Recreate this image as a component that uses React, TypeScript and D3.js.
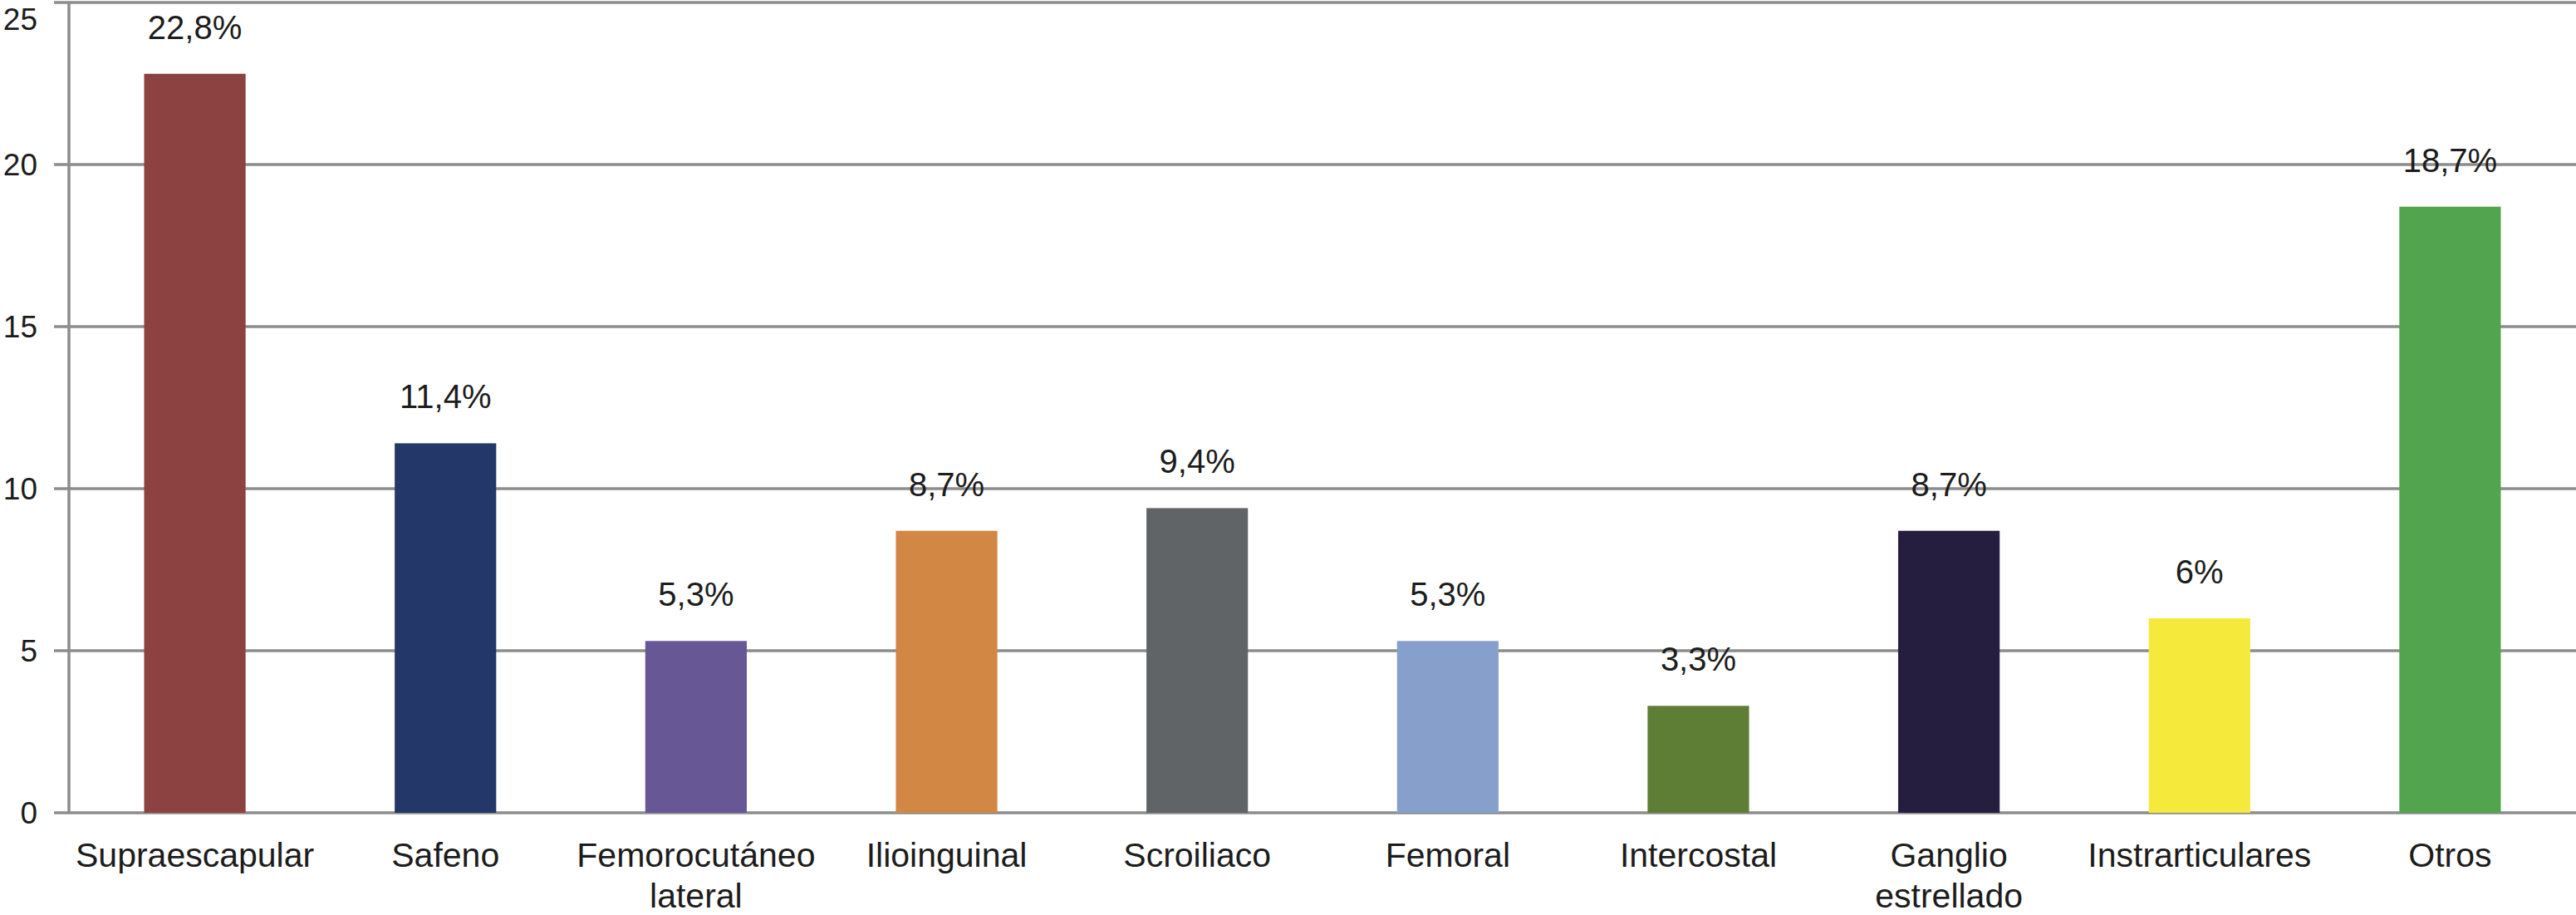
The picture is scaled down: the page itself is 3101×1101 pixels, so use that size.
import { useEffect, useRef } from 'react'
import * as d3 from 'd3'

const categories = [
  'Supraescapular',
  'Safeno',
  'Femorocutáneo\nlateral',
  'Ilioinguinal',
  'Scroiliaco',
  'Femoral',
  'Intercostal',
  'Ganglio\nestrellado',
  'Instrarticulares',
  'Otros',
]
const values = [22.8, 11.4, 5.3, 8.7, 9.4, 5.3, 3.3, 8.7, 6, 18.7]
const valueLabels = ['22,8%', '11,4%', '5,3%', '8,7%', '9,4%', '5,3%', '3,3%', '8,7%', '6%', '18,7%']
const colors = [
  '#8b4240',
  '#233868',
  '#675795',
  '#d38744',
  '#616466',
  '#87a0cb',
  '#5f7e35',
  '#251e3e',
  '#f5ea3c',
  '#52a44e',
]
const yTicks = [0, 5, 10, 15, 20, 25]

const W = 3101
const H = 1101

export default function App() {
  const svgRef = useRef<SVGSVGElement | null>(null)

  useEffect(() => {
    const margin = { top: 3, left: 83, right: 0, bottom: 123 }
    const font = '"Liberation Sans", Arial, Helvetica, sans-serif'
    const grid = '#8d8d8d'
    const ink = '#1c1c1c'

    const svg = d3.select(svgRef.current)
    svg.selectAll('*').remove()
    svg.attr('viewBox', `0 0 ${W} ${H}`)

    const x = d3
      .scaleBand<string>()
      .domain(categories)
      .range([margin.left, W - margin.right])
      .paddingInner(0.595)
      .paddingOuter(0.3)

    const y = d3
      .scaleLinear()
      .domain([0, 25])
      .range([H - margin.bottom, margin.top])

    // grid lines
    svg
      .append('g')
      .selectAll('line')
      .data(yTicks)
      .join('line')
      .attr('x1', margin.left - 18)
      .attr('x2', W)
      .attr('y1', (d) => y(d))
      .attr('y2', (d) => y(d))
      .attr('stroke', grid)
      .attr('stroke-width', 3.5)

    // vertical axis
    svg
      .append('line')
      .attr('x1', margin.left)
      .attr('x2', margin.left)
      .attr('y1', y(25))
      .attr('y2', y(0))
      .attr('stroke', grid)
      .attr('stroke-width', 3.5)

    // tick labels
    svg
      .append('g')
      .selectAll('text')
      .data(yTicks)
      .join('text')
      .attr('x', 45)
      .attr('y', (d) => Math.max(y(d), 23))
      .attr('dy', '0.36em')
      .attr('text-anchor', 'end')
      .attr('font-family', font)
      .attr('font-size', 37)
      .attr('fill', ink)
      .text((d) => d)

    const data = categories.map((c, i) => ({
      c,
      v: values[i],
      label: valueLabels[i],
      color: colors[i],
    }))

    // bars
    svg
      .append('g')
      .selectAll('rect')
      .data(data)
      .join('rect')
      .attr('x', (d) => x(d.c)!)
      .attr('width', x.bandwidth())
      .attr('y', (d) => y(d.v))
      .attr('height', (d) => y(0) - y(d.v))
      .attr('fill', (d) => d.color)

    // value labels
    svg
      .append('g')
      .selectAll('text')
      .data(data)
      .join('text')
      .attr('x', (d) => x(d.c)! + x.bandwidth() / 2)
      .attr('y', (d) => y(d.v) - 42)
      .attr('text-anchor', 'middle')
      .attr('font-family', font)
      .attr('font-size', 40)
      .attr('fill', ink)
      .text((d) => d.label)

    // category labels
    svg
      .append('g')
      .selectAll('text')
      .data(data)
      .join('text')
      .attr('transform', (d) => `translate(${x(d.c)! + x.bandwidth() / 2},1043)`)
      .attr('text-anchor', 'middle')
      .attr('font-family', font)
      .attr('font-size', 41)
      .attr('fill', ink)
      .selectAll('tspan')
      .data((d) => d.c.split('\n'))
      .join('tspan')
      .attr('x', 0)
      .attr('y', (_, i) => i * 49)
      .text((d) => d)
  }, [])

  return (
    <svg
      ref={svgRef}
      width={W}
      height={H}
      style={{ position: 'absolute', left: 0, top: 0, background: '#fff' }}
    />
  )
}
